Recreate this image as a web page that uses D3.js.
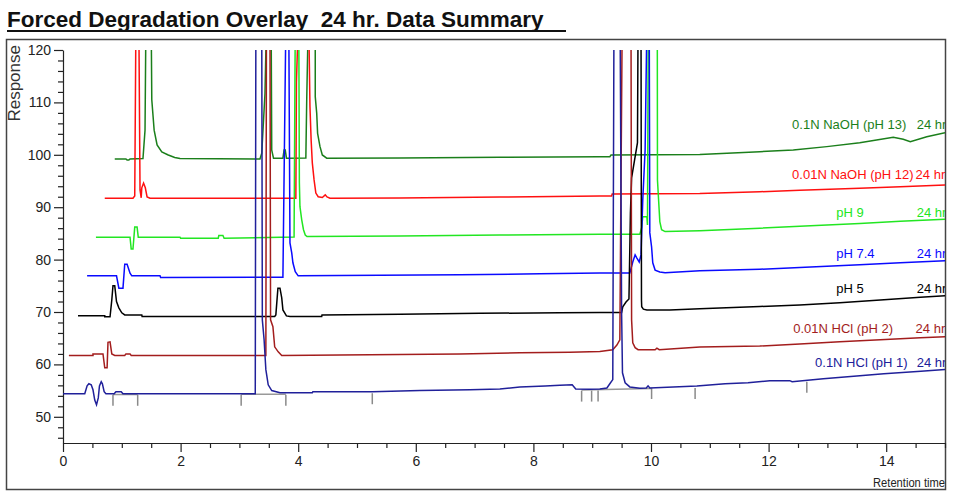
<!DOCTYPE html>
<html><head><meta charset="utf-8">
<script src="https://cdn.jsdelivr.net/npm/d3@7/dist/d3.min.js"></script>
<style>
body{margin:0;background:#fff}
svg{display:block}
text{font-family:"Liberation Sans",Arial,Helvetica,sans-serif}
</style>
</head><body>
<svg id="chart" width="955" height="498"></svg>
<script>
// ---------- DATA (retention time [min], response) ----------
const seriesNames = ["0.1N NaOH (pH 13)","0.01N NaOH (pH 12)","pH 9","pH 7.4","pH 5","0.01N HCl (pH 2)","0.1N HCl (pH 1)"];
const seriesTag = "24 hr";

const pH13 = [[0.88,99.2],[1.07,99.2],[1.09,99],[1.12,99],[1.14,99.2],[1.36,99.3],[1.395,104.7],[1.41,125],[1.5,125],[1.51,110.5],[1.55,104.7],[1.6,101.9],[1.68,100.55],[1.79,99.97],[1.9,99.5],[1.99,99.3],[3.35,99.2],[3.38,100.3],[3.435,111.7],[3.46,125],[3.54,125],[3.55,100.9],[3.58,99.35],[3.74,99.35],[3.76,100.9],[3.78,100.9],[3.8,99.35],[4.13,99.4],[4.145,110.5],[4.17,125],[4.29,125],[4.29,111.1],[4.315,107.9],[4.33,104.1],[4.37,101.6],[4.41,99.97],[4.485,99.35],[5.73,99.4],[7.43,99.53],[9.13,99.65],[9.3,99.65],[9.32,99.97],[10.83,100.07],[11.85,100.6],[12.42,100.93],[12.99,101.56],[13.55,102.3],[14.12,103.35],[14.29,102.97],[14.41,102.5],[14.69,103.46],[15,104.23]];
const pH12 = [[0.71,91.7],[1.19,91.7],[1.22,92.15],[1.24,125],[1.29,125],[1.31,93.3],[1.33,91.8],[1.34,93.7],[1.37,94.6],[1.4,93.7],[1.43,91.95],[1.48,91.7],[3.96,91.7],[3.97,113.9],[4.0,125],[4.18,125],[4.2,109.2],[4.22,102.8],[4.24,98.45],[4.27,95.2],[4.3,92.7],[4.34,92],[4.41,91.85],[4.46,92.35],[4.49,91.95],[4.54,91.7],[5.73,91.75],[7.43,91.95],[9.13,92.15],[9.33,92.15],[9.34,92.5],[10.83,92.6],[11.85,92.95],[12.53,93.25],[13.55,93.6],[14.24,93.9],[15,94.25]];
const pH9 = [[0.56,84.27],[1.14,84.27],[1.16,82],[1.19,82],[1.22,86.2],[1.26,86.2],[1.28,84.27],[1.99,84.27],[2.0,84.08],[2.64,84.08],[2.65,84.6],[2.72,84.6],[2.74,84.08],[3.93,84.3],[3.95,125],[4.01,125],[4.02,94.6],[4.03,90.1],[4.06,87.6],[4.09,85.7],[4.12,84.7],[4.15,84.4],[5.73,84.5],[7.43,84.7],[9.13,84.85],[9.81,84.85],[9.84,86.05],[9.86,88.2],[9.93,88.2],[9.94,86.6],[9.954,125],[10.107,125],[10.11,95.2],[10.15,87.25],[10.18,85.7],[10.24,85.35],[10.83,85.5],[11.85,86],[12.53,86.35],[13.55,86.9],[14.24,87.3],[15,87.7]];
const pH74 = [[0.41,76.9],[0.91,76.9],[0.95,74.55],[1.02,74.55],[1.05,79.1],[1.09,79.1],[1.14,77.4],[1.17,76.9],[1.65,76.9],[1.66,76.6],[3.74,76.65],[3.79,125],[3.84,125],[3.86,83.2],[3.89,81.3],[3.91,79.4],[3.95,77.7],[4.0,76.9],[5.39,77],[6.75,77.1],[8.11,77.3],[9.13,77.45],[9.64,77.45],[9.69,79.55],[9.73,80.9],[9.76,80.3],[9.8,79.55],[9.83,80.9],[9.86,91.4],[9.9,100.9],[9.93,125],[9.97,125],[9.98,85.1],[10.01,82.4],[10.03,79.4],[10.07,78],[10.15,77.65],[10.24,77.5],[10.83,77.85],[11.85,78.15],[12.53,78.5],[13.55,79],[14.24,79.4],[15,79.8]];
const pH5 = [[0.255,69.3],[0.71,69.3],[0.71,69.1],[0.8,69.1],[0.83,72.3],[0.85,75],[0.88,75],[0.91,72],[0.95,70.8],[1.0,69.85],[1.05,69.45],[1.34,69.45],[1.345,69.15],[3.6,69.15],[3.62,69.45],[3.655,74.55],[3.69,74.55],[3.72,72.7],[3.74,70.4],[3.8,69.25],[3.86,69.15],[4.4,69.15],[4.405,69.45],[5.73,69.55],[7.09,69.75],[8.45,69.85],[9.13,69.9],[9.5,69.9],[9.52,71],[9.575,71.9],[9.625,72.5],[9.65,88.9],[9.67,95.6],[9.77,102.3],[9.78,125],[9.83,125],[9.838,72.3],[9.842,71],[9.87,70.55],[9.93,70.4],[10.32,70.4],[10.83,70.6],[11.85,71.05],[12.53,71.35],[13.21,71.75],[13.9,72.3],[14.58,72.8],[15,73.1]];
const pH2 = [[0.1,61.7],[0.51,61.7],[0.51,62],[0.68,62],[0.71,59.35],[0.75,59.35],[0.765,64.2],[0.8,64.3],[0.83,62],[0.88,61.7],[1.05,61.7],[1.07,62],[1.14,62],[1.16,61.7],[3.45,61.7],[3.46,125],[3.52,125],[3.53,68.5],[3.57,67.2],[3.6,63.35],[3.66,62.4],[3.72,61.7],[4.71,61.8],[5.73,61.9],[6.75,62],[7.77,62.2],[8.62,62.3],[9.13,62.45],[9.35,62.8],[9.42,63.7],[9.47,64.7],[9.51,125],[9.66,125],[9.67,68.5],[9.69,64.1],[9.73,63.2],[9.78,62.8],[10.07,62.8],[10.1,63.1],[10.14,62.8],[10.83,63.3],[11.85,63.5],[12.53,63.9],[13.21,64.3],[13.9,64.7],[14.58,65.1],[15,65.3]];
const pH1 = [[0,54.4],[0.37,54.4],[0.41,55.9],[0.44,56.3],[0.48,56.1],[0.51,55.15],[0.54,53.2],[0.57,52.3],[0.6,53.6],[0.62,55.9],[0.65,56.7],[0.67,56.3],[0.7,54.8],[0.73,54.4],[0.87,54.4],[0.9,54.8],[0.99,54.8],[1.02,54.4],[2.33,54.4],[3.27,54.4],[3.28,125],[3.38,125],[3.39,68.5],[3.42,64.7],[3.45,59],[3.49,56.1],[3.55,55],[3.69,54.6],[4.24,54.6],[4.25,54.8],[5.26,54.8],[6.07,55],[6.92,55.15],[7.43,55.3],[7.77,55.7],[8.2,55.9],[8.45,56],[8.66,56.1],[8.72,55.3],[8.96,55.25],[9.13,55.3],[9.25,55.5],[9.3,56.3],[9.35,57.1],[9.37,125],[9.475,125],[9.5,70],[9.515,58.4],[9.56,56.5],[9.64,55.7],[9.81,55.45],[9.92,55.5],[9.95,55.9],[9.98,55.5],[10.78,55.9],[11.26,56.3],[11.65,56.5],[12.02,56.9],[12.36,56.9],[12.4,56.7],[12.93,57.25],[13.5,57.8],[13.96,58.2],[14.59,58.7],[15,59.05]];

// integration marks (retention time, response at mark top)
const markTimes = [0.85,1.27,3.03,3.79,5.26,8.82,8.99,9.10,10.01,10.75,12.65];
const markTops  = [54.2,54.2,54.2,54.2,54.5,55.0,55.0,55.0,55.5,55.5,56.7];
const integBaselines = [[[0.85,54.25],[1.27,54.25]],[[3.03,54.3],[3.79,54.3]],[[8.82,55.1],[10.01,55.4]]];

// label anchor (retention time, response)
const labelNameT = [12.40,12.40,13.15,13.15,13.15,12.42,12.79];
const labelTagT  = [14.52,14.50,14.52,14.52,14.52,14.50,14.52];
const labelV     = [104.9,95.4,88.15,80.3,73.65,66.0,59.5];

const xMajorTicks = [0,2,4,6,8,10,12,14];
const yMajorTicks = [50,60,70,80,90,100,110,120];

// ---------- STYLE ----------
const colors = ["#1b7f1b","#ff1010","#22e622","#0a0aff","#000000","#a31d1d","#20209a"];
const allSeries = [pH13,pH12,pH9,pH74,pH5,pH2,pH1];

const svg = d3.select("#chart");
const x = d3.scaleLinear().domain([0,15]).range([63,945]);
const y = d3.scaleLinear().domain([45,120]).range([443,50]);

// title
svg.append("text").attr("x",7).attr("y",27)
  .attr("font-size",22.5).attr("font-weight","bold").attr("fill","#111")
  .style("white-space","pre")
  .text("Forced Degradation Overlay  24 hr. Data Summary");
svg.append("line").attr("x1",7).attr("x2",566).attr("y1",31).attr("y2",31)
  .attr("stroke","#111").attr("stroke-width",2.2);

// frame
svg.append("rect").attr("x",6.5).attr("y",39.5).attr("width",939).attr("height",450)
  .attr("fill","none").attr("stroke","#444").attr("stroke-width",1.5);

// clip
const defs = svg.append("defs");
defs.append("clipPath").attr("id","plotClip").append("rect")
  .attr("x",x(0)).attr("y",y(120)).attr("width",x(15)-x(0)).attr("height",y(45)-y(120));
defs.append("clipPath").attr("id","labClip").append("rect")
  .attr("x",x(0)).attr("y",40).attr("width",x(15)-x(0)).attr("height",400);

// axes
const xMinor = d3.range(0,15.001,0.5).filter(v=>!xMajorTicks.includes(v));
const gxm = svg.append("g").attr("transform",`translate(0,${y(45)})`)
  .call(d3.axisBottom(x).tickValues(xMinor).tickSize(5).tickFormat(""));
gxm.select(".domain").remove();
const gx = svg.append("g").attr("transform",`translate(0,${y(45)})`)
  .call(d3.axisBottom(x).tickValues(xMajorTicks).tickSize(9).tickSizeOuter(0).tickPadding(4));
gx.selectAll("text").attr("font-size",14).attr("fill","#222").attr("font-family","Liberation Sans, Arial");

const yMinor = d3.range(46,120.001,2).filter(v=>!yMajorTicks.includes(v));
const gym = svg.append("g").attr("transform",`translate(${x(0)},0)`)
  .call(d3.axisLeft(y).tickValues(yMinor).tickSize(5).tickFormat(""));
gym.select(".domain").remove();
const gy = svg.append("g").attr("transform",`translate(${x(0)},0)`)
  .call(d3.axisLeft(y).tickValues(yMajorTicks).tickSize(9).tickSizeOuter(0).tickPadding(3));
gy.selectAll("text").attr("font-size",14).attr("fill","#222").attr("font-family","Liberation Sans, Arial");
svg.selectAll(".domain, .tick line").attr("stroke","#222").attr("stroke-width",1.2);

svg.append("text").attr("transform",`translate(20,45) rotate(-90)`)
  .attr("text-anchor","end").attr("font-size",17).attr("fill","#333").text("Response");
svg.append("text").attr("x",945).attr("y",487).attr("text-anchor","end")
  .attr("font-size",12).attr("fill","#222").attr("textLength",72).attr("lengthAdjust","spacingAndGlyphs")
  .text("Retention time");

// plot contents
const plot = svg.append("g").attr("clip-path","url(#plotClip)");
const line = d3.line().x(d=>x(d[0])).y(d=>y(d[1]));

plot.selectAll(".ib").data(integBaselines).join("path")
  .attr("d",line).attr("fill","none").attr("stroke","#999").attr("stroke-width",1.5);
plot.selectAll(".mk").data(markTimes).join("line")
  .attr("x1",d=>x(d)).attr("x2",d=>x(d))
  .attr("y1",(d,i)=>y(markTops[i])).attr("y2",(d,i)=>y(markTops[i])+11)
  .attr("stroke","#8a8a8a").attr("stroke-width",1.5);

plot.selectAll(".tr").data(allSeries).join("path")
  .attr("d",line).attr("fill","none")
  .attr("stroke",(d,i)=>colors[i]).attr("stroke-width",1.5).attr("stroke-linejoin","miter");

// labels
const lab = svg.append("g").attr("clip-path","url(#labClip)");
seriesNames.forEach((n,i)=>{
  lab.append("text").attr("x",x(labelNameT[i])).attr("y",y(labelV[i]))
    .attr("font-size",13).attr("fill",colors[i]).text(n);
  lab.append("text").attr("x",x(labelTagT[i])).attr("y",y(labelV[i]))
    .attr("font-size",13).attr("fill",colors[i]).text(seriesTag);
});
</script>
</body></html>
